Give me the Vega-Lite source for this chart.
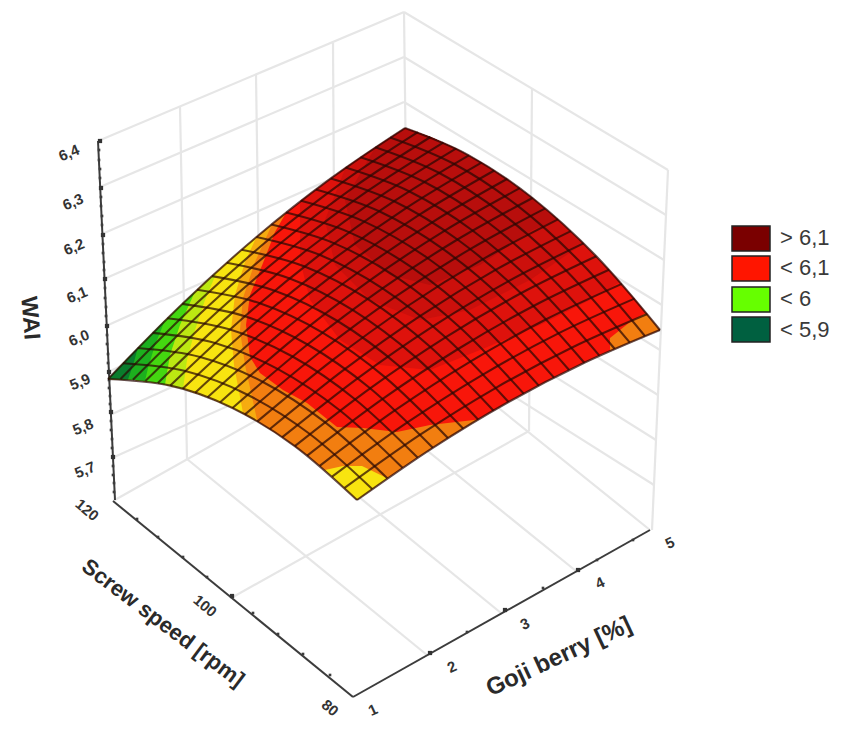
{"$schema":"https://vega.github.io/schema/vega-lite/v6.json","width":844,"height":729,"padding":0,"autosize":{"type":"fit","contains":"padding"},"background":"white","config":{"view":{"stroke":null}},
"encoding":{"x":{"field":"u","type":"quantitative","axis":null,"scale":{"domain":[0,844],"nice":false,"zero":false}},"y":{"field":"v","type":"quantitative","axis":null,"scale":{"domain":[729,0],"nice":false,"zero":false}}},
"resolve":{"scale":{"fill":"independent"}},
"datasets":{
"walls":[
{"line":"w1","u":98,"v":141},{"line":"w1","u":404,"v":12},{"line":"w2","u":100,"v":187},{"line":"w2","u":404,"v":57},{"line":"w3","u":102,"v":234},{"line":"w3","u":404,"v":102},{"line":"w4","u":104,"v":279},{"line":"w4","u":404,"v":147},{"line":"w5","u":106,"v":326},{"line":"w5","u":404,"v":192},{"line":"w6","u":108,"v":372},{"line":"w6","u":404,"v":237},{"line":"w7","u":110,"v":415},{"line":"w7","u":404,"v":282},{"line":"w8","u":112,"v":458},{"line":"w8","u":404,"v":327},{"line":"w9","u":113,"v":501},{"line":"w9","u":408,"v":335},
{"line":"r1","u":404,"v":12},{"line":"r1","u":668,"v":170},{"line":"r2","u":404,"v":57},{"line":"r2","u":666,"v":215},{"line":"r3","u":404,"v":102},{"line":"r3","u":664,"v":260},{"line":"r4","u":404,"v":147},{"line":"r4","u":662,"v":305},{"line":"r5","u":404,"v":192},{"line":"r5","u":660,"v":350},{"line":"r6","u":404,"v":237},{"line":"r6","u":658,"v":395},{"line":"r7","u":404,"v":282},{"line":"r7","u":656,"v":440},{"line":"r8","u":404,"v":327},{"line":"r8","u":654,"v":485},{"line":"r9","u":408,"v":335},{"line":"r9","u":650,"v":530},
{"line":"v1","u":180,"v":107},{"line":"v1","u":187,"v":459},{"line":"v2","u":256,"v":75},{"line":"v2","u":261,"v":417},{"line":"v3","u":333,"v":43},{"line":"v3","u":335,"v":376},{"line":"v4","u":404,"v":12},{"line":"v4","u":408,"v":335},{"line":"v5","u":532,"v":88},{"line":"v5","u":529,"v":431},{"line":"v6","u":668,"v":170},{"line":"v6","u":652,"v":530},
{"line":"f1","u":187,"v":459},{"line":"f1","u":427,"v":655},{"line":"f2","u":261,"v":417},{"line":"f2","u":501,"v":613},{"line":"f3","u":335,"v":376},{"line":"f3","u":576,"v":571},{"line":"f4","u":233,"v":597},{"line":"f4","u":529,"v":431}],
"axes":[{"line":"a1","u":98,"v":141},{"line":"a1","u":115,"v":500},{"line":"a2","u":113,"v":501},{"line":"a2","u":353,"v":697},{"line":"a3","u":353,"v":697},{"line":"a3","u":650,"v":530}],
"ticks":[{"u":99,"v":150},{"u":99,"v":160},{"u":100,"v":169},{"u":100,"v":178},{"u":101,"v":197},{"u":101,"v":206},{"u":102,"v":216},{"u":102,"v":225},{"u":103,"v":244},{"u":103,"v":253},{"u":104,"v":262},{"u":104,"v":270},{"u":105,"v":288},{"u":105,"v":298},{"u":106,"v":307},{"u":106,"v":316},{"u":107,"v":335},{"u":107,"v":344},{"u":108,"v":354},{"u":108,"v":363},{"u":109,"v":380},{"u":109,"v":388},{"u":110,"v":396},{"u":110,"v":404},{"u":111,"v":421},{"u":111,"v":430},{"u":112,"v":439},{"u":112,"v":448},{"u":113,"v":466},{"u":113,"v":475},{"u":114,"v":483},{"u":114,"v":492},
{"u":137,"v":519},{"u":158,"v":537},{"u":183,"v":557},{"u":207,"v":577},{"u":253,"v":613},{"u":278,"v":634},{"u":303,"v":654},{"u":330,"v":675},{"u":467,"v":632},{"u":543,"v":588},{"u":597,"v":560},{"u":633,"v":540}],
"majors":[{"u":100,"v":141},{"u":101,"v":188},{"u":103,"v":235},{"u":105,"v":279},{"u":107,"v":326},{"u":109,"v":372},{"u":111,"v":412},{"u":113,"v":457},{"u":232,"v":596},{"u":430,"v":653},{"u":505,"v":610},{"u":578,"v":570}],
"regions":[
{"region":"a","level":"red","u":108,"v":379},{"region":"a","level":"red","u":132.9,"v":379.8},{"region":"a","level":"red","u":157.8,"v":383},{"region":"a","level":"red","u":182.7,"v":388.8},{"region":"a","level":"red","u":207.6,"v":397.2},{"region":"a","level":"red","u":232.5,"v":408},{"region":"a","level":"red","u":257.4,"v":421.4},{"region":"a","level":"red","u":282.3,"v":437.2},{"region":"a","level":"red","u":307.2,"v":455.6},{"region":"a","level":"red","u":332.1,"v":476.6},{"region":"a","level":"red","u":357,"v":500},{"region":"a","level":"red","u":387.3,"v":478.3},{"region":"a","level":"red","u":417.6,"v":457.6},{"region":"a","level":"red","u":447.9,"v":438},{"region":"a","level":"red","u":478.2,"v":419.6},{"region":"a","level":"red","u":508.5,"v":402},{"region":"a","level":"red","u":538.8,"v":385.6},{"region":"a","level":"red","u":569.1,"v":370},{"region":"a","level":"red","u":599.4,"v":355.6},{"region":"a","level":"red","u":629.7,"v":342.4},{"region":"a","level":"red","u":660,"v":330},{"region":"a","level":"red","u":634.5,"v":298.6},{"region":"a","level":"red","u":609,"v":269.8},{"region":"a","level":"red","u":583.5,"v":243.4},{"region":"a","level":"red","u":558,"v":219.4},{"region":"a","level":"red","u":532.5,"v":198},{"region":"a","level":"red","u":507,"v":179},{"region":"a","level":"red","u":481.5,"v":162.6},{"region":"a","level":"red","u":456,"v":148.6},{"region":"a","level":"red","u":430.5,"v":137},{"region":"a","level":"red","u":405,"v":128},{"region":"a","level":"red","u":375.3,"v":147.2},{"region":"a","level":"red","u":345.6,"v":167.6},{"region":"a","level":"red","u":315.9,"v":189.4},{"region":"a","level":"red","u":286.2,"v":212.6},{"region":"a","level":"red","u":256.5,"v":237},{"region":"a","level":"red","u":226.8,"v":262.8},{"region":"a","level":"red","u":197.1,"v":289.8},{"region":"a","level":"red","u":167.4,"v":318.2},{"region":"a","level":"red","u":137.7,"v":348},
{"region":"b","level":"orange","u":108,"v":379},{"region":"b","level":"orange","u":137.7,"v":348},{"region":"b","level":"orange","u":167.4,"v":318.2},{"region":"b","level":"orange","u":197.1,"v":289.8},{"region":"b","level":"orange","u":226.8,"v":262.8},{"region":"b","level":"orange","u":256.5,"v":237},{"region":"b","level":"orange","u":286.2,"v":212.6},{"region":"b","level":"orange","u":275,"v":232},{"region":"b","level":"orange","u":263,"v":263},{"region":"b","level":"orange","u":250,"v":295},{"region":"b","level":"orange","u":246,"v":325},{"region":"b","level":"orange","u":250,"v":357},{"region":"b","level":"orange","u":260,"v":373},{"region":"b","level":"orange","u":283,"v":390},{"region":"b","level":"orange","u":307,"v":403},{"region":"b","level":"orange","u":337,"v":427},{"region":"b","level":"orange","u":363,"v":428},{"region":"b","level":"orange","u":397,"v":432},{"region":"b","level":"orange","u":430,"v":425},{"region":"b","level":"orange","u":478.2,"v":419.6},{"region":"b","level":"orange","u":447.9,"v":438},{"region":"b","level":"orange","u":417.6,"v":457.6},{"region":"b","level":"orange","u":387.3,"v":478.3},{"region":"b","level":"orange","u":357,"v":500},{"region":"b","level":"orange","u":332.1,"v":476.6},{"region":"b","level":"orange","u":307.2,"v":455.6},{"region":"b","level":"orange","u":282.3,"v":437.2},{"region":"b","level":"orange","u":257.4,"v":421.4},{"region":"b","level":"orange","u":232.5,"v":408},{"region":"b","level":"orange","u":207.6,"v":397.2},{"region":"b","level":"orange","u":182.7,"v":388.8},{"region":"b","level":"orange","u":157.8,"v":383},{"region":"b","level":"orange","u":132.9,"v":379.8},
{"region":"c","level":"amber","u":108,"v":379},{"region":"c","level":"amber","u":167.4,"v":318.2},{"region":"c","level":"amber","u":226.8,"v":262.8},{"region":"c","level":"amber","u":272,"v":224.5},{"region":"c","level":"amber","u":255,"v":262},{"region":"c","level":"amber","u":243,"v":298},{"region":"c","level":"amber","u":240,"v":330},{"region":"c","level":"amber","u":245,"v":365},{"region":"c","level":"amber","u":257.4,"v":421.4},{"region":"c","level":"amber","u":232.5,"v":408},{"region":"c","level":"amber","u":207.6,"v":397.2},{"region":"c","level":"amber","u":182.7,"v":388.8},{"region":"c","level":"amber","u":157.8,"v":383},{"region":"c","level":"amber","u":132.9,"v":379.8},
{"region":"d","level":"yellow","u":108,"v":379},{"region":"d","level":"yellow","u":167.4,"v":318.2},{"region":"d","level":"yellow","u":226.8,"v":262.8},{"region":"d","level":"yellow","u":256.5,"v":237},{"region":"d","level":"yellow","u":245,"v":262},{"region":"d","level":"yellow","u":235,"v":295},{"region":"d","level":"yellow","u":231,"v":330},{"region":"d","level":"yellow","u":234,"v":365},{"region":"d","level":"yellow","u":243,"v":413},{"region":"d","level":"yellow","u":232.5,"v":408},{"region":"d","level":"yellow","u":207.6,"v":397.2},{"region":"d","level":"yellow","u":182.7,"v":388.8},{"region":"d","level":"yellow","u":157.8,"v":383},{"region":"d","level":"yellow","u":132.9,"v":379.8},
{"region":"e","level":"lime","u":108,"v":379},{"region":"e","level":"lime","u":137.7,"v":348},{"region":"e","level":"lime","u":167.4,"v":318.2},{"region":"e","level":"lime","u":197.1,"v":289.8},{"region":"e","level":"lime","u":217,"v":271.5},{"region":"e","level":"lime","u":205,"v":300},{"region":"e","level":"lime","u":195,"v":330},{"region":"e","level":"lime","u":187,"v":360},{"region":"e","level":"lime","u":183,"v":389},{"region":"e","level":"lime","u":157.8,"v":383},{"region":"e","level":"lime","u":132.9,"v":379.8},
{"region":"f","level":"green","u":108,"v":379},{"region":"f","level":"green","u":137.7,"v":348},{"region":"f","level":"green","u":167.4,"v":318.2},{"region":"f","level":"green","u":195,"v":291.5},{"region":"f","level":"green","u":180,"v":325},{"region":"f","level":"green","u":170,"v":355},{"region":"f","level":"green","u":165,"v":384.5},{"region":"f","level":"green","u":157.8,"v":383},{"region":"f","level":"green","u":132.9,"v":379.8},
{"region":"g","level":"midgreen","u":108,"v":379},{"region":"g","level":"midgreen","u":137.7,"v":348},{"region":"g","level":"midgreen","u":165,"v":320},{"region":"g","level":"midgreen","u":155,"v":345},{"region":"g","level":"midgreen","u":148,"v":368},{"region":"g","level":"midgreen","u":145,"v":381},{"region":"g","level":"midgreen","u":132.9,"v":379.8},
{"region":"h","level":"darkgreen","u":108,"v":379},{"region":"h","level":"darkgreen","u":137.7,"v":348},{"region":"h","level":"darkgreen","u":134,"v":362},{"region":"h","level":"darkgreen","u":128,"v":379.5},
{"region":"i","level":"yellow","u":325,"v":470},{"region":"i","level":"yellow","u":343,"v":466},{"region":"i","level":"yellow","u":362,"v":466},{"region":"i","level":"yellow","u":387.3,"v":478.3},{"region":"i","level":"yellow","u":357,"v":500},
{"region":"j","level":"orange","u":660,"v":330},{"region":"j","level":"orange","u":646,"v":313},{"region":"j","level":"orange","u":630,"v":322},{"region":"j","level":"orange","u":610,"v":338},{"region":"j","level":"orange","u":610,"v":351},{"region":"j","level":"orange","u":629.7,"v":342.4},
{"region":"k","level":"medium","u":405,"v":128},{"region":"k","level":"medium","u":375.3,"v":147.2},{"region":"k","level":"medium","u":345.6,"v":167.6},{"region":"k","level":"medium","u":300,"v":201},{"region":"k","level":"medium","u":300,"v":260},{"region":"k","level":"medium","u":310,"v":300},{"region":"k","level":"medium","u":340,"v":340},{"region":"k","level":"medium","u":380,"v":365},{"region":"k","level":"medium","u":430,"v":370},{"region":"k","level":"medium","u":480,"v":350},{"region":"k","level":"medium","u":540,"v":325},{"region":"k","level":"medium","u":590,"v":300},{"region":"k","level":"medium","u":620,"v":282},{"region":"k","level":"medium","u":609,"v":269.8},{"region":"k","level":"medium","u":583.5,"v":243.4},{"region":"k","level":"medium","u":558,"v":219.4},{"region":"k","level":"medium","u":532.5,"v":198},{"region":"k","level":"medium","u":507,"v":179},{"region":"k","level":"medium","u":481.5,"v":162.6},{"region":"k","level":"medium","u":456,"v":148.6},{"region":"k","level":"medium","u":430.5,"v":137},
{"region":"l","level":"darker","u":405,"v":128},{"region":"l","level":"darker","u":375.3,"v":147.2},{"region":"l","level":"darker","u":345.6,"v":167.6},{"region":"l","level":"darker","u":325,"v":220},{"region":"l","level":"darker","u":335,"v":265},{"region":"l","level":"darker","u":370,"v":300},{"region":"l","level":"darker","u":420,"v":320},{"region":"l","level":"darker","u":470,"v":310},{"region":"l","level":"darker","u":530,"v":280},{"region":"l","level":"darker","u":583.5,"v":243.4},{"region":"l","level":"darker","u":558,"v":219.4},{"region":"l","level":"darker","u":532.5,"v":198},{"region":"l","level":"darker","u":507,"v":179},{"region":"l","level":"darker","u":481.5,"v":162.6},{"region":"l","level":"darker","u":456,"v":148.6},{"region":"l","level":"darker","u":430.5,"v":137},
{"region":"m","level":"deep","u":405,"v":128},{"region":"m","level":"deep","u":375.3,"v":147.2},{"region":"m","level":"deep","u":345,"v":200},{"region":"m","level":"deep","u":355,"v":245},{"region":"m","level":"deep","u":390,"v":275},{"region":"m","level":"deep","u":430,"v":285},{"region":"m","level":"deep","u":480,"v":265},{"region":"m","level":"deep","u":532.5,"v":230},{"region":"m","level":"deep","u":558,"v":219.4},{"region":"m","level":"deep","u":532.5,"v":198},{"region":"m","level":"deep","u":507,"v":179},{"region":"m","level":"deep","u":481.5,"v":162.6},{"region":"m","level":"deep","u":456,"v":148.6},{"region":"m","level":"deep","u":430.5,"v":137}],
"grid":[
{"line":"g0","u":108,"v":379},{"line":"g0","u":170.3,"v":385.6},{"line":"g0","u":232.5,"v":408},{"line":"g0","u":294.8,"v":446.1},{"line":"g0","u":357,"v":500},
{"line":"g1","u":122.9,"v":363.3},{"line":"g1","u":185.2,"v":371.1},{"line":"g1","u":247.5,"v":394.7},{"line":"g1","u":309.8,"v":434},{"line":"g1","u":372.2,"v":489},
{"line":"g2","u":137.7,"v":348},{"line":"g2","u":200.1,"v":357},{"line":"g2","u":262.5,"v":381.7},{"line":"g2","u":324.9,"v":422.2},{"line":"g2","u":387.3,"v":478.3},
{"line":"g3","u":152.6,"v":332.9},{"line":"g3","u":215,"v":343},{"line":"g3","u":277.5,"v":368.9},{"line":"g3","u":340,"v":410.5},{"line":"g3","u":402.5,"v":467.8},
{"line":"g4","u":167.4,"v":318.2},{"line":"g4","u":230,"v":329.5},{"line":"g4","u":292.5,"v":356.5},{"line":"g4","u":355,"v":399.2},{"line":"g4","u":417.6,"v":457.6},
{"line":"g5","u":182.3,"v":303.9},{"line":"g5","u":244.9,"v":316.3},{"line":"g5","u":307.5,"v":344.5},{"line":"g5","u":370.1,"v":388.3},{"line":"g5","u":432.8,"v":447.8},
{"line":"g6","u":197.1,"v":289.8},{"line":"g6","u":259.8,"v":303.3},{"line":"g6","u":322.5,"v":332.6},{"line":"g6","u":385.2,"v":377.4},{"line":"g6","u":447.9,"v":438},
{"line":"g7","u":212,"v":276.1},{"line":"g7","u":274.7,"v":290.7},{"line":"g7","u":337.5,"v":321},{"line":"g7","u":400.3,"v":367},{"line":"g7","u":463.1,"v":428.6},
{"line":"g8","u":226.8,"v":262.8},{"line":"g8","u":289.7,"v":278.5},{"line":"g8","u":352.5,"v":309.9},{"line":"g8","u":415.4,"v":356.9},{"line":"g8","u":478.2,"v":419.6},
{"line":"g9","u":241.7,"v":249.7},{"line":"g9","u":304.6,"v":266.5},{"line":"g9","u":367.5,"v":298.9},{"line":"g9","u":430.4,"v":347},{"line":"g9","u":493.4,"v":410.6},
{"line":"g10","u":256.5,"v":237},{"line":"g10","u":319.5,"v":254.8},{"line":"g10","u":382.5,"v":288.3},{"line":"g10","u":445.5,"v":337.3},{"line":"g10","u":508.5,"v":402},
{"line":"g11","u":271.4,"v":224.6},{"line":"g11","u":334.4,"v":243.4},{"line":"g11","u":397.5,"v":277.8},{"line":"g11","u":460.6,"v":328},{"line":"g11","u":523.7,"v":393.6},
{"line":"g12","u":286.2,"v":212.6},{"line":"g12","u":349.4,"v":232.4},{"line":"g12","u":412.5,"v":267.9},{"line":"g12","u":475.7,"v":319},{"line":"g12","u":538.8,"v":385.6},
{"line":"g13","u":301.1,"v":200.8},{"line":"g13","u":364.3,"v":221.6},{"line":"g13","u":427.5,"v":258},{"line":"g13","u":490.7,"v":310},{"line":"g13","u":554,"v":377.6},
{"line":"g14","u":315.9,"v":189.4},{"line":"g14","u":379.2,"v":211.2},{"line":"g14","u":442.5,"v":248.6},{"line":"g14","u":505.8,"v":301.5},{"line":"g14","u":569.1,"v":370},
{"line":"g15","u":330.8,"v":178.4},{"line":"g15","u":394.1,"v":201.2},{"line":"g15","u":457.5,"v":239.5},{"line":"g15","u":520.9,"v":293.3},{"line":"g15","u":584.3,"v":362.8},
{"line":"g16","u":345.6,"v":167.6},{"line":"g16","u":409,"v":191.3},{"line":"g16","u":472.5,"v":230.5},{"line":"g16","u":536,"v":285.3},{"line":"g16","u":599.4,"v":355.6},
{"line":"g17","u":360.5,"v":157.2},{"line":"g17","u":424,"v":181.8},{"line":"g17","u":487.5,"v":222},{"line":"g17","u":551,"v":277.6},{"line":"g17","u":614.6,"v":348.8},
{"line":"g18","u":375.3,"v":147.2},{"line":"g18","u":438.9,"v":172.8},{"line":"g18","u":502.5,"v":213.8},{"line":"g18","u":566.1,"v":270.4},{"line":"g18","u":629.7,"v":342.4},
{"line":"g19","u":390.2,"v":137.4},{"line":"g19","u":453.8,"v":163.8},{"line":"g19","u":517.5,"v":205.7},{"line":"g19","u":581.2,"v":263.1},{"line":"g19","u":644.9,"v":336},
{"line":"g20","u":405,"v":128},{"line":"g20","u":468.8,"v":155.3},{"line":"g20","u":532.5,"v":198},{"line":"g20","u":596.3,"v":256.3},{"line":"g20","u":660,"v":330},
{"line":"s0","u":108,"v":379},{"line":"s0","u":182.3,"v":303.9},{"line":"s0","u":256.5,"v":237},{"line":"s0","u":330.8,"v":178.4},{"line":"s0","u":405,"v":128},
{"line":"s1","u":120.5,"v":379.1},{"line":"s1","u":194.8,"v":305.1},{"line":"s1","u":269.1,"v":239.3},{"line":"s1","u":343.4,"v":181.7},{"line":"s1","u":417.8,"v":132.2},
{"line":"s2","u":132.9,"v":379.8},{"line":"s2","u":207.3,"v":307},{"line":"s2","u":281.7,"v":242.3},{"line":"s2","u":356.1,"v":185.6},{"line":"s2","u":430.5,"v":137},
{"line":"s3","u":145.4,"v":381.1},{"line":"s3","u":219.8,"v":309.5},{"line":"s3","u":294.3,"v":245.8},{"line":"s3","u":368.8,"v":190.2},{"line":"s3","u":443.3,"v":142.5},
{"line":"s4","u":157.8,"v":383},{"line":"s4","u":232.4,"v":312.6},{"line":"s4","u":306.9,"v":250},{"line":"s4","u":381.5,"v":195.4},{"line":"s4","u":456,"v":148.6},
{"line":"s5","u":170.3,"v":385.6},{"line":"s5","u":244.9,"v":316.3},{"line":"s5","u":319.5,"v":254.8},{"line":"s5","u":394.1,"v":201.2},{"line":"s5","u":468.8,"v":155.3},
{"line":"s6","u":182.7,"v":388.8},{"line":"s6","u":257.4,"v":320.7},{"line":"s6","u":332.1,"v":260.3},{"line":"s6","u":406.8,"v":207.6},{"line":"s6","u":481.5,"v":162.6},
{"line":"s7","u":195.2,"v":392.7},{"line":"s7","u":269.9,"v":325.7},{"line":"s7","u":344.7,"v":266.3},{"line":"s7","u":419.5,"v":214.7},{"line":"s7","u":494.3,"v":170.5},
{"line":"s8","u":207.6,"v":397.2},{"line":"s8","u":282.5,"v":331.4},{"line":"s8","u":357.3,"v":273},{"line":"s8","u":432.2,"v":222.3},{"line":"s8","u":507,"v":179},
{"line":"s9","u":220.1,"v":402.3},{"line":"s9","u":295,"v":337.6},{"line":"s9","u":369.9,"v":280.3},{"line":"s9","u":444.8,"v":230.6},{"line":"s9","u":519.8,"v":188.2},
{"line":"s10","u":232.5,"v":408},{"line":"s10","u":307.5,"v":344.5},{"line":"s10","u":382.5,"v":288.3},{"line":"s10","u":457.5,"v":239.5},{"line":"s10","u":532.5,"v":198},
{"line":"s11","u":245,"v":414.4},{"line":"s11","u":320,"v":352},{"line":"s11","u":395.1,"v":296.8},{"line":"s11","u":470.2,"v":249.1},{"line":"s11","u":545.3,"v":208.4},
{"line":"s12","u":257.4,"v":421.4},{"line":"s12","u":332.6,"v":360.1},{"line":"s12","u":407.7,"v":306},{"line":"s12","u":482.9,"v":259.2},{"line":"s12","u":558,"v":219.4},
{"line":"s13","u":269.9,"v":429},{"line":"s13","u":345.1,"v":368.9},{"line":"s13","u":420.3,"v":315.8},{"line":"s13","u":495.5,"v":269.9},{"line":"s13","u":570.8,"v":231.1},
{"line":"s14","u":282.3,"v":437.2},{"line":"s14","u":357.6,"v":378.3},{"line":"s14","u":432.9,"v":326.3},{"line":"s14","u":508.2,"v":281.3},{"line":"s14","u":583.5,"v":243.4},
{"line":"s15","u":294.8,"v":446.1},{"line":"s15","u":370.1,"v":388.3},{"line":"s15","u":445.5,"v":337.3},{"line":"s15","u":520.9,"v":293.3},{"line":"s15","u":596.3,"v":256.3},
{"line":"s16","u":307.2,"v":455.6},{"line":"s16","u":382.7,"v":398.9},{"line":"s16","u":458.1,"v":349},{"line":"s16","u":533.5,"v":306},{"line":"s16","u":609,"v":269.8},
{"line":"s17","u":319.7,"v":465.8},{"line":"s17","u":395.2,"v":410.2},{"line":"s17","u":470.7,"v":361.3},{"line":"s17","u":546.2,"v":319.3},{"line":"s17","u":621.8,"v":283.9},
{"line":"s18","u":332.1,"v":476.6},{"line":"s18","u":407.7,"v":422.2},{"line":"s18","u":483.3,"v":374.3},{"line":"s18","u":558.9,"v":333.1},{"line":"s18","u":634.5,"v":298.6},
{"line":"s19","u":344.6,"v":487.9},{"line":"s19","u":420.2,"v":434.7},{"line":"s19","u":495.9,"v":387.8},{"line":"s19","u":571.6,"v":347.7},{"line":"s19","u":647.3,"v":314},
{"line":"s20","u":357,"v":500},{"line":"s20","u":432.8,"v":447.8},{"line":"s20","u":508.5,"v":402},{"line":"s20","u":584.3,"v":362.8},{"line":"s20","u":660,"v":330}],
"swatches":[{"label":"> 6,1","u":732,"u2":770,"v":226,"v2":251},{"label":"< 6,1","u":732,"u2":770,"v":256,"v2":281},{"label":"< 6","u":732,"u2":770,"v":287,"v2":312},{"label":"< 5,9","u":732,"u2":770,"v":317,"v2":342}]
},
"layer":[
{"data":{"name":"walls"},"mark":{"type":"line","color":"#e6e6e6","strokeWidth":2.2},"encoding":{"detail":{"field":"line"}}},
{"data":{"name":"axes"},"mark":{"type":"line","color":"#3c3c3c","strokeWidth":2},"encoding":{"detail":{"field":"line"}}},
{"data":{"name":"ticks"},"mark":{"type":"point","filled":true,"shape":"square","size":7,"color":"#3c3c3c","opacity":1}},
{"data":{"name":"majors"},"mark":{"type":"point","filled":true,"shape":"square","size":18,"color":"#333333","opacity":1}},
{"data":{"name":"regions"},"mark":{"type":"line","strokeWidth":0},"encoding":{"detail":{"field":"region"},"order":{"value":null},"fill":{"field":"level","type":"nominal","legend":null,"scale":{"domain":["red","orange","amber","yellow","lime","green","midgreen","darkgreen","medium","darker","deep"],"range":["#f8160a","#f27e10","#f6ac10","#f8e410","#bce812","#44d810","#1cb01e","#0a7c2c","#de120c","#cc100c","#b80e0c"]}}}},
{"data":{"name":"grid"},"mark":{"type":"line","interpolate":"monotone","color":"#280804","strokeWidth":2.1,"opacity":0.72},"encoding":{"detail":{"field":"line"}}},
{"data":{"name":"swatches"},"mark":{"type":"rect","stroke":"#222222","strokeWidth":1.5},"encoding":{"x2":{"field":"u2"},"y2":{"field":"v2"},"fill":{"field":"label","type":"nominal","legend":null,"scale":{"domain":["> 6,1","< 6,1","< 6","< 5,9"],"range":["#7a0000","#ff1500","#66ff00","#006040"]}}}},
{"data":{"values":[{"label":"> 6,1","u":780,"v":238},{"label":"< 6,1","u":780,"v":268},{"label":"< 6","u":780,"v":299},{"label":"< 5,9","u":780,"v":330}]},"mark":{"type":"text","align":"left","baseline":"middle","font":"Liberation Sans","fontSize":22,"color":"#3a3a3a"},"encoding":{"text":{"field":"label"}}},
{"data":{"values":[{"label":"6,4","u":69,"v":153},{"label":"6,3","u":73,"v":202},{"label":"6,2","u":74,"v":247},{"label":"6,1","u":77,"v":295},{"label":"6,0","u":79,"v":338},{"label":"5,9","u":80,"v":382},{"label":"5,8","u":83,"v":427},{"label":"5,7","u":85,"v":470}]},"mark":{"type":"text","align":"center","baseline":"middle","font":"Liberation Sans","fontWeight":"bold","fontSize":15,"angle":338,"color":"#333333"},"encoding":{"text":{"field":"label"}}},
{"data":{"values":[{"label":"WAI","u":30,"v":318}]},"mark":{"type":"text","align":"center","baseline":"middle","font":"Liberation Sans","fontWeight":"bold","fontSize":23,"angle":85,"color":"#2a2a2a"},"encoding":{"text":{"field":"label"}}},
{"data":{"values":[{"label":"120","u":87,"v":510},{"label":"100","u":205,"v":606},{"label":"80","u":330,"v":708}]},"mark":{"type":"text","align":"center","baseline":"middle","font":"Liberation Sans","fontWeight":"bold","fontSize":15,"angle":40,"color":"#333333"},"encoding":{"text":{"field":"label"}}},
{"data":{"values":[{"label":"Screw speed [rpm]","u":163,"v":623}]},"mark":{"type":"text","align":"center","baseline":"middle","font":"Liberation Sans","fontWeight":"bold","fontSize":22,"angle":37,"color":"#2a2a2a"},"encoding":{"text":{"field":"label"}}},
{"data":{"values":[{"label":"1","u":373,"v":710},{"label":"2","u":452,"v":667},{"label":"3","u":525,"v":624},{"label":"4","u":600,"v":583},{"label":"5","u":670,"v":543}]},"mark":{"type":"text","align":"center","baseline":"middle","font":"Liberation Sans","fontWeight":"bold","fontSize":15,"angle":335,"color":"#333333"},"encoding":{"text":{"field":"label"}}},
{"data":{"values":[{"label":"Goji berry [%]","u":559,"v":657}]},"mark":{"type":"text","align":"center","baseline":"middle","font":"Liberation Sans","fontWeight":"bold","fontSize":24,"angle":335,"color":"#2a2a2a"},"encoding":{"text":{"field":"label"}}}
]}
